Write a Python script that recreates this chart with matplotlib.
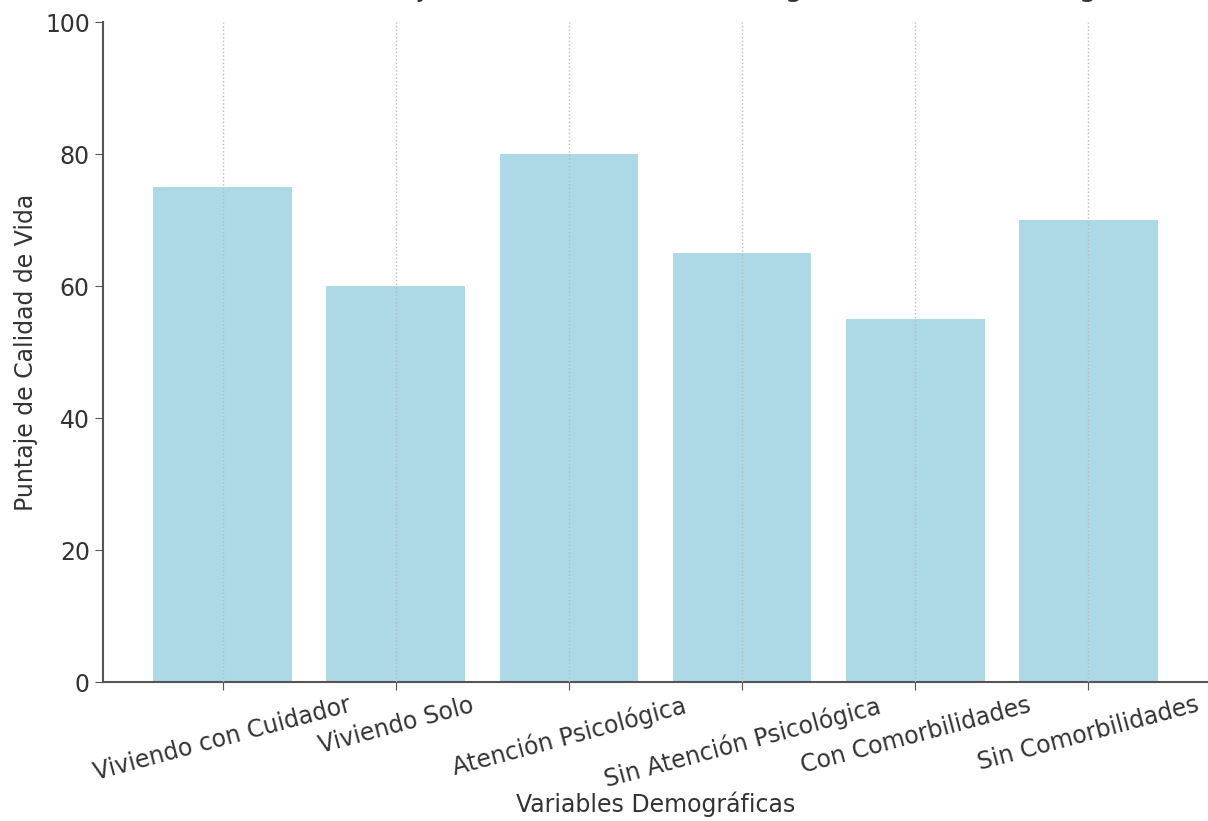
import matplotlib
matplotlib.use("Agg")
import matplotlib.pyplot as plt

categories = [
    "Viviendo con Cuidador",
    "Viviendo Solo",
    "Atención Psicológica",
    "Sin Atención Psicológica",
    "Con Comorbilidades",
    "Sin Comorbilidades",
]
scores = [75, 60, 80, 65, 55, 70]

title  = "Diferencias en Puntajes de Calidad de Vida según Variables Demográficas"
xlabel = "Variables Demográficas"
ylabel = "Puntaje de Calidad de Vida"

text_col = "#333333"

fig = plt.figure(figsize=(12.08, 8.21), dpi=100)
ax  = fig.add_axes([0.0853, 0.1693, 0.9147, 0.8037])

x = range(len(categories))
ax.bar(x, scores, width=0.8, color="lightblue", zorder=1)

ax.set_xticks(list(x))
ax.set_xticklabels(categories, rotation=15, ha="center", fontsize=17)
ax.set_ylim(0, 100)
ax.set_yticks([0, 20, 40, 60, 80, 100])
ax.tick_params(axis="y", labelsize=17, colors="#555555", length=6)
ax.tick_params(axis="x", colors="#555555", length=6, pad=2)
for lbl in ax.get_xticklabels() + ax.get_yticklabels():
    lbl.set_color(text_col)

# dotted vertical grid drawn over the bars
ax.grid(axis="x", linestyle=":", color="#bbbbbb", linewidth=1, zorder=2)
ax.set_axisbelow(False)

ax.spines["top"].set_visible(False)
ax.spines["right"].set_visible(False)
for s in ["left", "bottom"]:
    ax.spines[s].set_color("#555555")
    ax.spines[s].set_linewidth(1.5)

ax.set_xlabel(xlabel, fontsize=17, color=text_col, labelpad=0)
ax.set_ylabel(ylabel, fontsize=17, color=text_col, labelpad=5)
# title sits mostly above the top edge, as in the cropped original
ax.set_title(title, fontsize=21, color=text_col, pad=18.5)

plt.savefig("out.png", dpi=100)
plt.close()
